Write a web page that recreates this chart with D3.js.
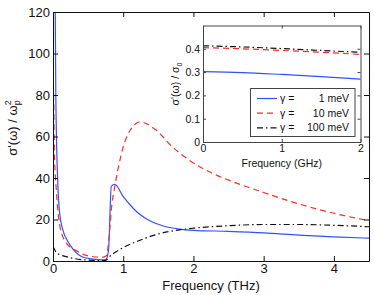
<!DOCTYPE html>
<html>
<head>
<meta charset="utf-8">
<script src="https://cdn.jsdelivr.net/npm/d3@7"></script>
<style>
  body { margin: 0; background: #fff; }
  svg text { font-family: "Liberation Sans", Arial, Helvetica, sans-serif; fill: #111; }
  .axis path, .axis line { stroke: #111; }
  .inset .axis path, .inset .axis line { stroke: #444; }
</style>
</head>
<body>
<div id="chart"></div>
<script>
// main panel: sigma'(omega)/omega_p^2 vs frequency (THz)
const blueTHz = [
  [0.03, 130], [0.04, 80], [0.07, 36], [0.095, 23], [0.14, 15], [0.21, 9.5], [0.29, 5.5],
  [0.43, 1.8], [0.55, 1.0], [0.7, 0.5], [0.75, 0.6], [0.79, 5], [0.83, 36], [0.88, 37],
  [1.0, 31], [1.1, 27], [1.2, 23.5], [1.3, 21], [1.4, 19], [1.56, 17], [1.8, 15.4],
  [2.0, 14.8], [2.5, 14.3], [3.0, 13.6], [3.5, 12.5], [4.0, 11.6], [4.5, 11]
];
const redTHz = [
  [0, 90], [0.01, 78], [0.02, 53], [0.05, 33], [0.1, 16.5], [0.19, 8.7], [0.33, 5],
  [0.5, 2.5], [0.7, 1.8], [0.76, 2.5], [0.8, 12], [0.83, 24.5], [0.88, 36], [0.93, 45],
  [1.0, 55], [1.1, 63], [1.24, 67], [1.47, 63], [1.7, 55], [1.94, 48.6], [2.32, 41.5],
  [2.5, 39], [3.0, 33], [3.5, 27.5], [4.0, 23], [4.5, 19.4]
];
const blackTHz = [
  [0, 7], [0.05, 4], [0.1, 3], [0.2, 2], [0.3, 1.2], [0.5, 0.4], [0.7, 0.2], [0.75, 0.3],
  [0.8, 2], [0.9, 4.5], [1.0, 6.5], [1.2, 9.5], [1.5, 13], [1.8, 15], [2.0, 15.8],
  [2.5, 17], [3.0, 17.6], [3.5, 17.6], [4.0, 17.2], [4.5, 16.5]
];
const mainXTicks = [0, 1, 2, 3, 4];
const mainYTicks = [0, 20, 40, 60, 80, 100, 120];

// inset: sigma'(omega)/sigma_0 vs frequency (GHz)
const blueGHz = [[0, 0.302], [0.5, 0.298], [1, 0.29], [1.5, 0.281], [2, 0.27]];
const redGHz = [[0, 0.405], [0.5, 0.4], [1, 0.393], [1.5, 0.385], [2, 0.376]];
const blackGHz = [[0, 0.413], [0.5, 0.408], [1, 0.401], [1.5, 0.393], [2, 0.385]];
const insetXTicks = [0, 1, 2];
const insetYTicks = [0, 0.1, 0.2, 0.3, 0.4];

const legendItems = [
  { gamma: '1 meV', color: '#3050ff', dash: null },
  { gamma: '10 meV', color: '#ff2a2a', dash: '6,4' },
  { gamma: '100 meV', color: '#111', dash: '6,3,1.5,3' }
];
const curves = [
  { main: blueTHz, inset: blueGHz, style: legendItems[0] },
  { main: redTHz, inset: redGHz, style: legendItems[1] },
  { main: blackTHz, inset: blackGHz, style: legendItems[2] }
];

const FONT = '"Liberation Sans", Arial, Helvetica, sans-serif';
const W = 374, H = 295;
const m = { left: 53, right: 369, top: 12, bottom: 261 };
const svg = d3.select('#chart').append('svg').attr('width', W).attr('height', H)
  .attr('font-family', FONT);

const x = d3.scaleLinear().domain([0, 4.5]).range([m.left, m.right]);
const y = d3.scaleLinear().domain([0, 120]).range([m.bottom, m.top]);

svg.append('clipPath').attr('id', 'clipMain')
  .append('rect').attr('x', m.left).attr('y', m.top)
  .attr('width', m.right - m.left).attr('height', m.bottom - m.top);

const line = (sx, sy) => d3.line().x(d => sx(d[0])).y(d => sy(d[1])).curve(d3.curveMonotoneX);

curves.forEach(c => {
  svg.append('path').datum(c.main)
    .attr('clip-path', 'url(#clipMain)')
    .attr('d', line(x, y))
    .attr('fill', 'none')
    .attr('stroke', c.style.color)
    .attr('stroke-width', 1.2)
    .attr('stroke-dasharray', c.style.dash);
});

// axes, MATLAB style box with inward ticks
const tk = 5;
const fixText = (g, size) => g.attr('font-family', FONT)
  .selectAll('text').attr('font-size', size).attr('fill', '#111');
svg.append('g').attr('class', 'axis').attr('transform', `translate(0,${m.bottom})`)
  .call(d3.axisBottom(x).tickValues(mainXTicks).tickSize(-tk).tickSizeOuter(0).tickPadding(3)
    .tickFormat(d3.format('d')))
  .call(g => fixText(g, 13));
svg.append('g').attr('class', 'axis').attr('transform', `translate(0,${m.top})`)
  .call(d3.axisTop(x).tickValues(mainXTicks).tickSize(-tk).tickSizeOuter(0).tickFormat(''));
svg.append('g').attr('class', 'axis').attr('transform', `translate(${m.left},0)`)
  .call(d3.axisLeft(y).tickValues(mainYTicks).tickSize(-tk).tickSizeOuter(0).tickPadding(3))
  .call(g => fixText(g, 13));
svg.append('g').attr('class', 'axis').attr('transform', `translate(${m.right},0)`)
  .call(d3.axisRight(y).tickValues(mainYTicks).tickSize(-tk).tickSizeOuter(0).tickFormat(''));

svg.append('text').attr('x', (m.left + m.right) / 2).attr('y', 290)
  .attr('text-anchor', 'middle').attr('font-size', 13).text('Frequency (THz)');

const yl = svg.append('text').attr('transform', 'translate(17,128) rotate(-90)')
  .attr('text-anchor', 'middle').attr('font-size', 13);
yl.append('tspan').text('σ\'(ω) / ω');
yl.append('tspan').attr('font-size', 9).attr('dy', 3).text('p');
yl.append('tspan').attr('font-size', 9).attr('dx', -5).attr('dy', -9).text('2');

// inset
const ins = { left: 203, right: 360.5, top: 25.5, bottom: 142 };
const gi = svg.append('g').attr('class', 'inset');
gi.append('rect').attr('x', ins.left).attr('y', ins.top)
  .attr('width', ins.right - ins.left).attr('height', ins.bottom - ins.top)
  .attr('fill', '#fff');
const xi = d3.scaleLinear().domain([0, 2]).range([ins.left, ins.right]);
const yi = d3.scaleLinear().domain([0, 0.5]).range([ins.bottom, ins.top]);

curves.forEach(c => {
  gi.append('path').datum(c.inset)
    .attr('d', line(xi, yi))
    .attr('fill', 'none')
    .attr('stroke', c.style.color)
    .attr('stroke-width', 1.2)
    .attr('stroke-dasharray', c.style.dash);
});

const ti = 3;
gi.append('g').attr('class', 'axis').attr('transform', `translate(0,${ins.bottom})`)
  .call(d3.axisBottom(xi).tickValues(insetXTicks).tickSize(-ti).tickSizeOuter(0).tickPadding(3)
    .tickFormat(d3.format('d')))
  .call(g => fixText(g, 10.5));
gi.append('g').attr('class', 'axis').attr('transform', `translate(0,${ins.top})`)
  .call(d3.axisTop(xi).tickValues(insetXTicks).tickSize(-ti).tickSizeOuter(0).tickFormat(''));
gi.append('g').attr('class', 'axis').attr('transform', `translate(${ins.left},0)`)
  .call(d3.axisLeft(yi).tickValues(insetYTicks).tickSize(-ti).tickSizeOuter(0).tickPadding(3)
    .tickFormat(d => d === 0 ? '0' : d3.format('.1f')(d)))
  .call(g => fixText(g, 10.5));
gi.append('g').attr('class', 'axis').attr('transform', `translate(${ins.right},0)`)
  .call(d3.axisRight(yi).tickValues(insetYTicks).tickSize(-ti).tickSizeOuter(0).tickFormat(''));

gi.append('text').attr('x', (ins.left + ins.right) / 2).attr('y', 167)
  .attr('text-anchor', 'middle').attr('font-size', 10.5).text('Frequency (GHz)');

const yli = gi.append('text').attr('transform', 'translate(179,84) rotate(-90)')
  .attr('text-anchor', 'middle').attr('font-size', 10.5);
yli.append('tspan').text('σ\'(ω) / σ');
yli.append('tspan').attr('font-size', 7).attr('dy', 3).text('0');

// legend
const lg = gi.append('g');
lg.append('rect').attr('x', 250.5).attr('y', 88.5).attr('width', 104.5).attr('height', 48)
  .attr('fill', '#fff').attr('stroke', '#444').attr('stroke-width', 1);
legendItems.forEach((d, i) => {
  const ly = 98.5 + i * 14.7;
  lg.append('line').attr('x1', 257).attr('x2', 277).attr('y1', ly).attr('y2', ly)
    .attr('stroke', d.color).attr('stroke-width', 1.2).attr('stroke-dasharray', d.dash);
  lg.append('text').attr('x', 280).attr('y', ly + 3.5).attr('font-size', 10.5).text('γ =');
  lg.append('text').attr('x', 349).attr('y', ly + 3.5).attr('text-anchor', 'end')
    .attr('font-size', 10.5).text(d.gamma);
});
</script>
</body>
</html>
